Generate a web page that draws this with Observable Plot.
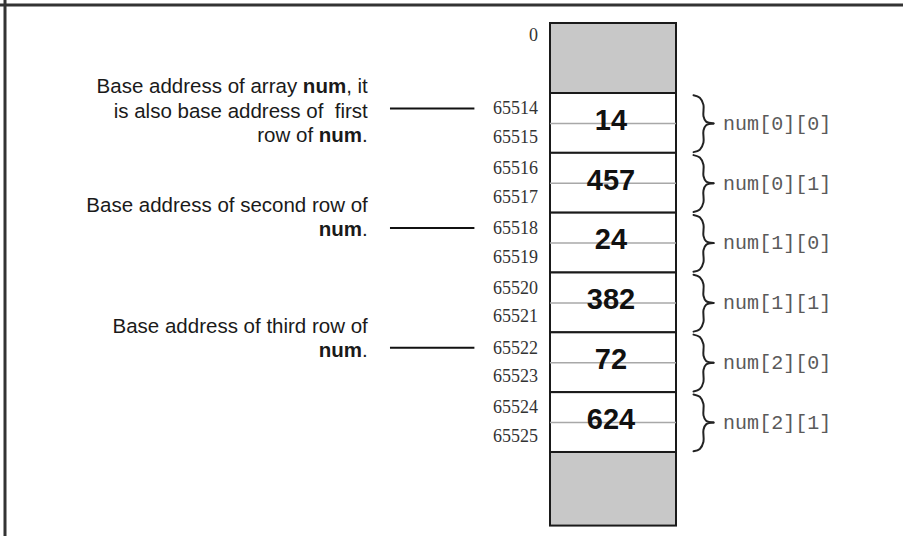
<!DOCTYPE html>
<html>
<head>
<meta charset="utf-8">
<script src="https://cdn.jsdelivr.net/npm/d3@7"></script>
<script src="https://cdn.jsdelivr.net/npm/@observablehq/plot@0.6"></script>
<style>
  html, body { margin: 0; padding: 0; background: #fff; }
  #chart { width: 903px; height: 536px; overflow: hidden; }
</style>
</head>
<body>
<div id="chart"></div>
<script>
// ---- data ----
const cellValues = [14, 457, 24, 382, 72, 624];
const elementNames = ["num[0][0]", "num[0][1]", "num[1][0]", "num[1][1]", "num[2][0]", "num[2][1]"];
const addressLabels = [65514, 65515, 65516, 65517, 65518, 65519, 65520, 65521, 65522, 65523, 65524, 65525];
const startAddressLabel = "0";
const annotationTexts = [
  "Base address of array **num**, it\nis also base address of  first\nrow of **num**.",
  "Base address of second row of\n**num**.",
  "Base address of third row of\n**num**."
];
const annotationAddressIndex = [0, 4, 8];

// ---- layout (units: x = memory-column widths, y = 2-byte cells) ----
const X_DOMAIN = [-550 / 126, 353 / 126];
const Y_DOMAIN = [-93 / 59.83, 443 / 59.83];
const TOP_GRAY = [-1.17, 0];
const BOTTOM_GRAY = [cellValues.length, cellValues.length + 1.23];
const addrX = -0.1;
const braceX = [1.135, 1.185, 1.214, 1.235, 1.294];
const nameX = 1.37;
const connX = [-1.27, -0.6];
const annoX = -1.45;
const annoLineOffset = [0.02, -0.2, -0.18]; // block centre relative to connector

const cells = cellValues.map((v, i) => ({value: v, name: elementNames[i], y1: i, y2: i + 1, mid: i + 0.5}));
const addrs = addressLabels.map((a, k) => ({label: String(a), y: Math.floor(k / 2) + (k % 2 ? 0.73 : 0.25)}));
const annos = annotationTexts.map((t, i) => {
  const a = addrs[annotationAddressIndex[i]];
  return {text: t, y: a.y, ty: a.y + annoLineOffset[i]};
});
const braces = [];
cells.forEach((c, i) => {
  const yt = c.y1 + 0.03, yb = c.y2 - 0.02, ym = c.mid;
  const top = [[braceX[0], yt], [braceX[1], yt + 0.04], [braceX[2], yt + 0.16], [braceX[2], ym - 0.12], [braceX[3], ym - 0.03], [braceX[4], ym]];
  const bot = [[braceX[4], ym], [braceX[3], ym + 0.03], [braceX[2], ym + 0.12], [braceX[2], yb - 0.16], [braceX[1], yb - 0.04], [braceX[0], yb]];
  top.forEach(([x, y]) => braces.push({x, y, z: i + "a"}));
  bot.forEach(([x, y]) => braces.push({x, y, z: i + "b"}));
});

const sans = "'Liberation Sans', Arial, sans-serif";
const serif = "'Liberation Serif', 'Times New Roman', serif";
const mono = "'Liberation Mono', 'Courier New', monospace";

const chart = Plot.plot({
  width: 903,
  height: 536,
  margin: 0,
  style: {background: "#fff"},
  x: {domain: X_DOMAIN, axis: null},
  y: {domain: Y_DOMAIN, reverse: true, axis: null},
  marks: [
    // outer frame (top + left)
    Plot.ruleY([-88.5 / 59.83], {stroke: "#333", strokeWidth: 3}),
    Plot.ruleX([-545.5 / 126], {stroke: "#333", strokeWidth: 3}),
    // gray blocks
    Plot.rect([TOP_GRAY, BOTTOM_GRAY], {x1: 0, x2: 1, y1: d => d[0], y2: d => d[1], fill: "#c8c8c8", stroke: "#1a1a1a", strokeWidth: 2}),
    // cells
    Plot.rect(cells, {x1: 0, x2: 1, y1: "y1", y2: "y2", fill: "#fff", stroke: "#1a1a1a", strokeWidth: 2}),
    Plot.ruleY(cells, {y: "mid", x1: 0, x2: 1, stroke: "#a8a8a8", strokeWidth: 1.5}),
    Plot.text(cells, {x: 0.48, y: "mid", dy: -3, text: d => String(d.value), fontFamily: sans, fontWeight: "bold", fontSize: 29, fill: "#111"}),
    // addresses
    Plot.text([startAddressLabel], {x: addrX, y: TOP_GRAY[0] + 0.2, text: d => d, textAnchor: "end", fontFamily: serif, fontSize: 18, fill: "#333"}),
    Plot.text(addrs, {x: addrX, y: "y", text: "label", textAnchor: "end", fontFamily: serif, fontSize: 18, fill: "#333"}),
    // braces and element names
    Plot.line(braces, {x: "x", y: "y", z: "z", curve: "catmull-rom", stroke: "#222", strokeWidth: 2}),
    Plot.text(cells, {x: nameX, y: "mid", text: "name", textAnchor: "start", fontFamily: mono, fontSize: 20, fill: "#5a5a5a"}),
    // annotations
    Plot.ruleY(annos, {y: "y", x1: connX[0], x2: connX[1], stroke: "#111", strokeWidth: 2}),
    Plot.text(annos, {x: annoX, y: "ty", text: "text", textAnchor: "end", lineAnchor: "middle", lineHeight: 1.2, fontFamily: sans, fontSize: 20.5, fill: "#1a1a1a"})
  ]
});

// render **bold** segments
const NS = "http://www.w3.org/2000/svg";
chart.querySelectorAll("text, tspan").forEach(el => {
  if (el.children.length === 0 && el.textContent.includes("**")) {
    const parts = el.textContent.split("**");
    el.textContent = "";
    parts.forEach((p, i) => {
      if (!p) return;
      const t = document.createElementNS(NS, "tspan");
      t.textContent = p;
      if (i % 2 === 1) t.setAttribute("font-weight", "bold");
      el.appendChild(t);
    });
  }
});

document.getElementById("chart").appendChild(chart);
</script>
</body>
</html>
